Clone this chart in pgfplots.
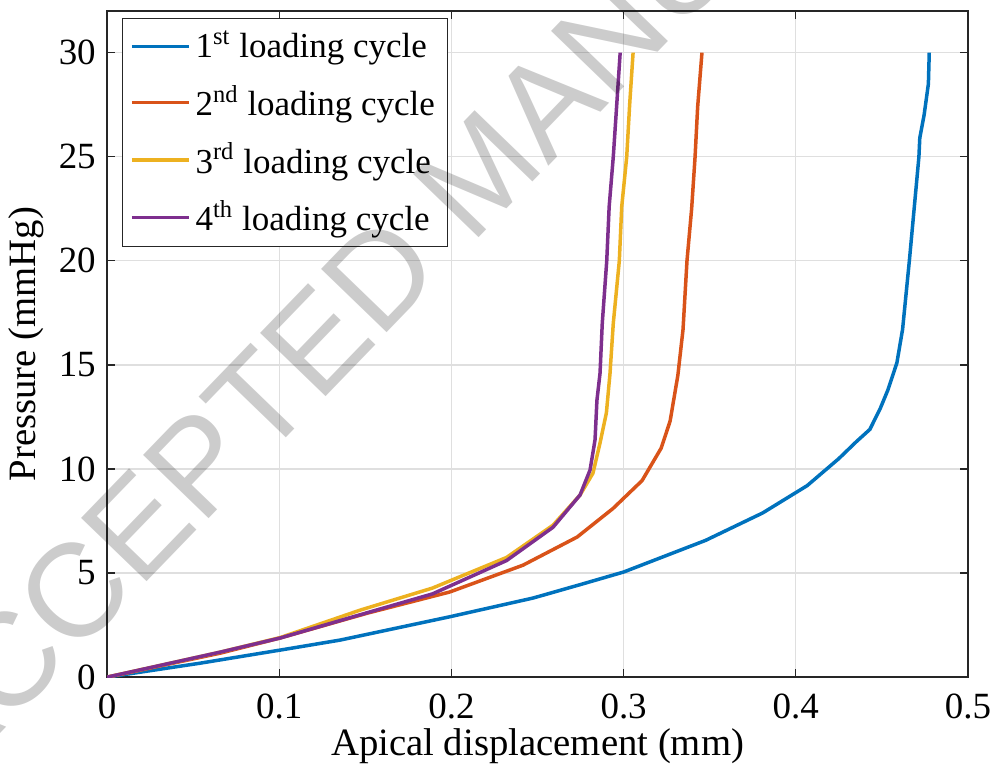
\documentclass[border=0pt]{standalone}
\usepackage{fontspec}
\setmainfont{Liberation Serif}
\newfontfamily\wmfont{Liberation Sans}
\usepackage{pgfplots}
\pgfplotsset{compat=1.18}
\definecolor{mBlue}{HTML}{0072BD}
\definecolor{mOrange}{HTML}{D95319}
\definecolor{mYellow}{HTML}{EDB120}
\definecolor{mPurple}{HTML}{7E2F8E}
\definecolor{axInk}{HTML}{262626}
\definecolor{gridGray}{HTML}{DFDFDF}

\begin{document}
\begin{tikzpicture}
\begin{axis}[
  name=ax,
  scale only axis, width=12.11cm, height=9.37cm,
  xmin=0, xmax=0.5, ymin=0, ymax=32,
  xtick={0,0.1,0.2,0.3,0.4,0.5},
  ytick={0,5,10,15,20,25,30},
  xtick pos=both, ytick pos=both,
  tick align=inside, major tick length=3.2pt,
  tick style={color=axInk, line width=0.5pt},
  axis line style={color=axInk, line width=0.6pt},
  grid=major, major grid style={color=gridGray, line width=0.5pt},
  /pgf/number format/assume math mode=true,
  ticklabel style={font=\fontsize{14.8}{16}\selectfont},
  xticklabel style={yshift=-3pt},
  yticklabel style={xshift=-1pt},
  label style={font=\fontsize{15.5}{17}\selectfont},
  xlabel={Apical displacement (mm)},
  ylabel={Pressure (mmHg)},
  xlabel style={yshift=3pt},
  ylabel style={yshift=-1pt},
  legend cell align=left,
  legend style={at={(rel axis cs:0.0174,0.9895)}, anchor=north west,
    draw=axInk, line width=0.5pt, fill=white,
    font=\fontsize{14}{16}\selectfont, row sep=5.5pt, inner sep=3pt},
  legend image code/.code={\draw[#1, line width=1.4pt] (0cm,0cm) -- (0.8cm,0cm);},
  every axis plot/.append style={line width=1.4pt},
]
\addplot[color=mBlue] coordinates {
 (0,0) (0.054,0.67) (0.1005,1.3) (0.1353,1.78) (0.199,2.9) (0.2474,3.8)
 (0.275,4.45) (0.30,5.05) (0.3476,6.57) (0.3808,7.89) (0.4066,9.2)
 (0.425,10.5) (0.435,11.3) (0.443,11.9) (0.449,12.9) (0.4535,13.8)
 (0.4587,15.1) (0.462,16.7) (0.466,20.05) (0.4715,25.0) (0.472,25.9)
 (0.4745,27) (0.477,28.5) (0.4775,30)
};
\addplot[color=mOrange] coordinates {
 (0,0) (0.0656,1.15) (0.1005,1.88) (0.151,3.07) (0.199,4.09) (0.2416,5.38)
 (0.273,6.73) (0.2938,8.1) (0.3107,9.44) (0.3218,11.0) (0.327,12.3)
 (0.3315,14.5) (0.3345,16.7) (0.3368,20) (0.3395,22.5) (0.3415,25)
 (0.343,27.4) (0.3455,30)
};
\addplot[color=mYellow] coordinates {
 (0,0) (0.0656,1.2) (0.1005,1.9) (0.147,3.22) (0.189,4.28) (0.232,5.75)
 (0.259,7.3) (0.2747,8.75) (0.2822,9.8) (0.2863,11.25) (0.29,12.7)
 (0.2921,14.6) (0.294,17) (0.2975,20) (0.2989,22.6) (0.3018,25)
 (0.3035,27.5) (0.3055,30)
};
\addplot[color=mPurple] coordinates {
 (0,0) (0.0656,1.2) (0.1005,1.88) (0.1429,2.9) (0.189,4.0) (0.232,5.6)
 (0.259,7.2) (0.2747,8.75) (0.2805,9.95) (0.2834,11.4) (0.2845,13.3)
 (0.2863,14.6) (0.2876,17) (0.2902,20) (0.2916,22.6) (0.294,25)
 (0.296,27.5) (0.298,30)
};
\legend{1\textsuperscript{st} loading cycle, 2\textsuperscript{nd} loading cycle,
  3\textsuperscript{rd} loading cycle, 4\textsuperscript{th} loading cycle}
\coordinate (wm) at (axis cs:0.2166,24.28);
\end{axis}
\pgfresetboundingbox
\path[use as bounding box] ([shift={(-1.506cm,-1.449cm)}]ax.south west)
  rectangle ([shift={(0.380cm,0.155cm)}]ax.north east);
\begin{scope}
\clip ([shift={(-1.506cm,-1.449cm)}]ax.south west)
  rectangle ([shift={(0.380cm,0.155cm)}]ax.north east);
\node[rotate=46, inner sep=0, text=black, text opacity=0.2,
  font=\wmfont\fontsize{53}{53}\selectfont] at (wm) {ACCEPTED MANUSCRIPT};
\end{scope}
\end{tikzpicture}
\end{document}
